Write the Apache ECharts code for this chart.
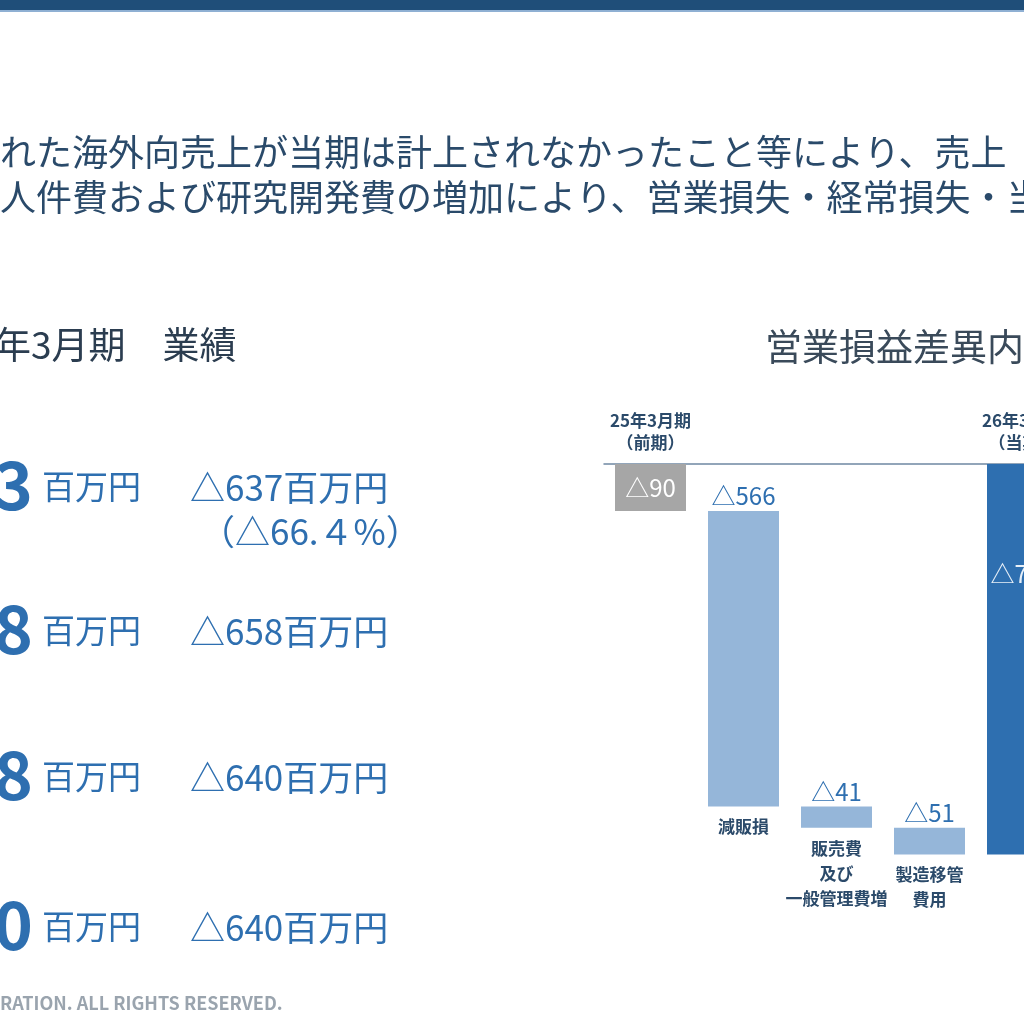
<!DOCTYPE html>
<html><head><meta charset="utf-8">
<script src="https://cdn.jsdelivr.net/npm/echarts@6/dist/echarts.min.js"></script>
<style>html,body{margin:0;padding:0;background:#fff;overflow:hidden;width:1024px;height:1024px}#c{width:1100px;height:1024px}</style>
</head><body><div id="c"></div>
<script>
const categories = ['25年3月期\n（前期）', '減販損', '販売費\n及び\n一般管理費増', '製造移管\n費用', '26年3月期\n（当期）'];
const changes = [-90, -566, -41, -51, -748];
const bottomNames = ['', '減販損', '販売費\n及び\n一般管理費増', '製造移管\n費用', ''];
const valueLabels = ['△90', '△566', '△41', '△51', '△748'];

const base = [];
let run = 0;
for (let i = 0; i < changes.length; i++) {
  if (i === 0 || i === changes.length - 1) base.push(0);
  else base.push(run);
  if (i < changes.length - 1) run += changes[i];
}
const colors = ['#a6a6a6', '#95b6d9', '#95b6d9', '#95b6d9', '#2e6fb0'];
const F = '"Noto Sans CJK JP", "Noto Sans", sans-serif';
const blue = '#2e6fb0';

const chart = echarts.init(document.getElementById('c'));
const txt = (x, y, text, size, color, weight) => ({type:'text', left:x, top:y, style:{text, fontSize:size, fill:color, fontFamily:F, fontWeight:weight||'normal'}});
chart.setOption({
  animation:false,
  grid:{left:604, top:464, width:465, height:417.6},
  xAxis:{type:'category', position:'top', data:categories,
    axisLine:{lineStyle:{color:'#6f88a3', width:1.5}}, axisTick:{show:false},
    axisLabel:{interval:0, fontFamily:F, fontSize:17, fontWeight:'bold', color:'#2b4a6a', lineHeight:22, margin:10,
      formatter:(v,i)=> (i===0||i===4)? v : ''}},
  yAxis:{type:'value', min:-800, max:0, show:false, splitLine:{show:false}},
  series:[
    {type:'bar', stack:'w', data:base, itemStyle:{color:'transparent'}, barWidth:71, silent:true},
    {type:'bar', stack:'w', data:changes.map((v,i)=>({value:v, itemStyle:{color:colors[i]},
      label: i===0 ? {show:true, position:'inside', color:'#fff', fontSize:24} :
             i===4 ? {show:true, position:'insideTop', distance:98, color:'#e8f0f8', fontSize:24} :
             {show:true, position:'top', color:blue, fontSize:24, distance:3}})),
      label:{fontFamily:F, formatter:p=>valueLabels[p.dataIndex]}},
    {type:'bar', stack:'w', data:changes.map(()=>-0.001), itemStyle:{color:'transparent'},
      label:{show:true, position:'bottom', distance:8, fontFamily:F, fontSize:17, fontWeight:'bold', color:'#2b4a6a', lineHeight:25,
        formatter:p=>bottomNames[p.dataIndex]}}
  ],
  graphic:[
    {type:'rect', shape:{x:0,y:0,width:1100,height:10}, style:{fill:'#1f4e79'}},
    {type:'rect', shape:{x:0,y:10,width:1100,height:2}, style:{fill:'#8fb0d3'}},
    txt(0,134,'れた海外向売上が当期は計上されなかったこと等により、売上',36,'#2a4a6a'),
    txt(0,179,'人件費および研究開発費の増加により、営業損失・経常損失・当',36,'#2a4a6a'),
    txt(-6,326,'年3月期　業績',37,'#2b3d50'),
    txt(765,328,'営業損益差異内',37,'#3a4a5a'),
    txt(-6,452,'3',66,blue,'bold'), txt(42,470,'百万円',33,blue), txt(190,470,'△637百万円',35,blue), txt(200,514,'（△66.４%）',35,blue),
    txt(-6,596,'8',66,blue,'bold'), txt(42,614,'百万円',33,blue), txt(190,614,'△658百万円',35,blue),
    txt(-6,742,'8',66,blue,'bold'), txt(42,760,'百万円',33,blue), txt(190,760,'△640百万円',35,blue),
    txt(-6,892,'0',66,blue,'bold'), txt(42,910,'百万円',33,blue), txt(190,910,'△640百万円',35,blue),
    txt(0,994,'RATION. ALL RIGHTS RESERVED.',18,'#9aa4ae','bold')
  ]
});
</script></body></html>
